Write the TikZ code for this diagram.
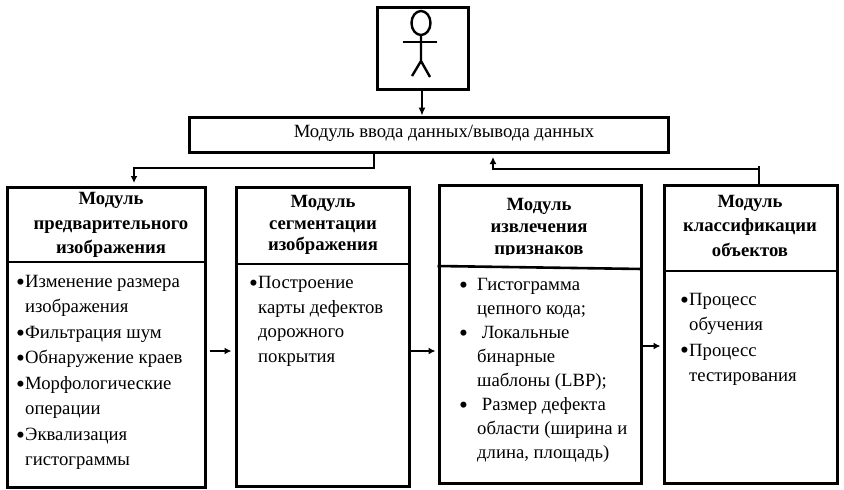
\documentclass[tikz,border=0pt]{standalone}
\usepackage{fontspec}
\setmainfont{Liberation Serif}
\usetikzlibrary{arrows.meta}
\newcommand{\bigbul}{\raisebox{-2.6pt}{\scalebox{1.35}{•}}}
\newcommand{\bul}{\makebox[9pt][l]{\bigbul}}
\newcommand{\widebul}{\makebox[18pt][l]{\bigbul}}
\newcommand{\ind}{\hspace*{9pt}}
\newcommand{\fs}[1]{\fontsize{18.7}{#1}\selectfont}
\tikzset{
  x=1pt,y=-1pt,
  frame/.style={draw=black,line width=3pt,fill=white,rectangle,inner sep=0pt},
  divider/.style={line width=2.6pt},
  head/.style={inner sep=0pt,align=center,font=\bfseries},
  body/.style={inner sep=0pt,align=left,anchor=north west},
  conn/.style={line width=2.1pt,-{Latex[length=7pt,width=7pt]}},
  stem/.style={line width=2.1pt},
  thin conn/.style={line width=1.2pt,-{Latex[length=8pt,width=7pt]}},
  figure line/.style={line width=2.4pt}
}
\begin{document}
\begin{tikzpicture}
\useasboundingbox (0,0) rectangle (844,490);
% boxes
\node[frame,minimum width=91pt,minimum height=82pt] (actor) at (422.5,48) {};
\node[frame,minimum width=479pt,minimum height=35pt] (io) at (428.5,134.5) {};
\node[frame,minimum width=198pt,minimum height=300pt] (b1) at (106,337) {};
\node[frame,minimum width=173pt,minimum height=299pt] (b2) at (322.5,336.5) {};
\node[frame,minimum width=202pt,minimum height=298pt] (b3) at (540,334) {};
\node[frame,minimum width=173pt,minimum height=298pt] (b4) at (750.5,334) {};
% dividers
\draw[divider] (b1.west |- 0,262) -- (b1.east |- 0,262);
\draw[divider] (b2.west |- 0,264) -- (b2.east |- 0,264);
\draw[divider] (b3.west |- 0,266) -- (b3.east |- 0,269);
\draw[divider] (b4.west |- 0,271) -- (b4.east |- 0,271);
% actor
\draw[figure line] (421,23) ellipse [x radius=9.5pt,y radius=12pt];
\draw[figure line] (403,42) -- (437,42);
\draw[figure line] (421,35) -- (421,61) -- (412,76);
\draw[figure line] (421,61) -- (430,77);
% text
\node[inner sep=0pt,font=\fs{20}] (iot) at (444,133.5) {Модуль ввода данных/вывода данных};
\node[head,font=\fs{24.5}\bfseries] (h1) at (111,225) {Модуль\\предварительного\\изображения};
\node[head,font=\fs{21.5}\bfseries] (h2) at (323,225) {Модуль\\сегментации\\изображения};
\begin{scope}
\clip (439,185) rectangle (641,254.5);
\node[head,font=\fs{22}\bfseries] (h3) at (539,228.5) {Модуль\\извлечения\\признаков};
\end{scope}
\node[head,font=\fs{24.5}\bfseries] (h4) at (750,225.5) {Модуль\\классификации\\объектов};
\node[body,font=\fs{25.5}] (t1) at (16,275) {\bul Изменение размера\\\ind изображения\\\bul Фильтрация шум\\\bul Обнаружение краев\\\bul Морфологические\\\ind операции\\\bul Эквализация\\\ind гистограммы};
\node[body,font=\fs{24.7}] (t2) at (249,276) {\bul Построение\\\ind карты дефектов\\\ind дорожного\\\ind покрытия};
\node[body,font=\fs{24}] (t3) at (459,278) {\widebul Гистограмма\\\hspace*{18pt}цепного кода;\\\widebul\ Локальные\\\hspace*{18pt}бинарные\\\hspace*{18pt}шаблоны (LBP);\\\widebul\ Размер дефекта\\\hspace*{18pt}области (ширина и\\\hspace*{18pt}длина, площадь)};
\node[body,font=\fs{25.3}] (t4) at (680,293) {\bul Процесс\\\ind обучения\\\bul Процесс\\\ind тестирования};
% connector helpers
\coordinate (y12) at (0,351);
\coordinate (y34) at (0,346);
\coordinate (x0) at (422,0);
\coordinate (x1) at (374,0);
\coordinate (l1) at (0,168);
\coordinate (x2) at (134,0);
\coordinate (x4) at (759,0);
\coordinate (x5) at (493,0);
\coordinate (l2) at (0,169);
\coordinate (top4) at (0,166);
% connectors
\draw[thin conn] (x0 |- actor.south) -- (x0 |- io.north);
\draw[conn,shorten >=2.5pt] (x1 |- io.south) -- (x1 |- l1) -- (x2 |- l1) -- (x2 |- b1.north);
\draw[stem] (x4 |- b4.north) -- (x4 |- top4);
\draw[conn,shorten >=3.5pt] (x4 |- l2) -- (x5 |- l2) -- (x5 |- io.south);
\draw[conn,shorten <=3pt,shorten >=3pt] (b1.east |- y12) -- (b2.west |- y12);
\draw[conn,shorten >=2pt] (b2.east |- y12) -- (b3.west |- y12);
\draw[conn,shorten >=2pt] (b3.east |- y34) -- (b4.west |- y34);
\end{tikzpicture}
\end{document}
